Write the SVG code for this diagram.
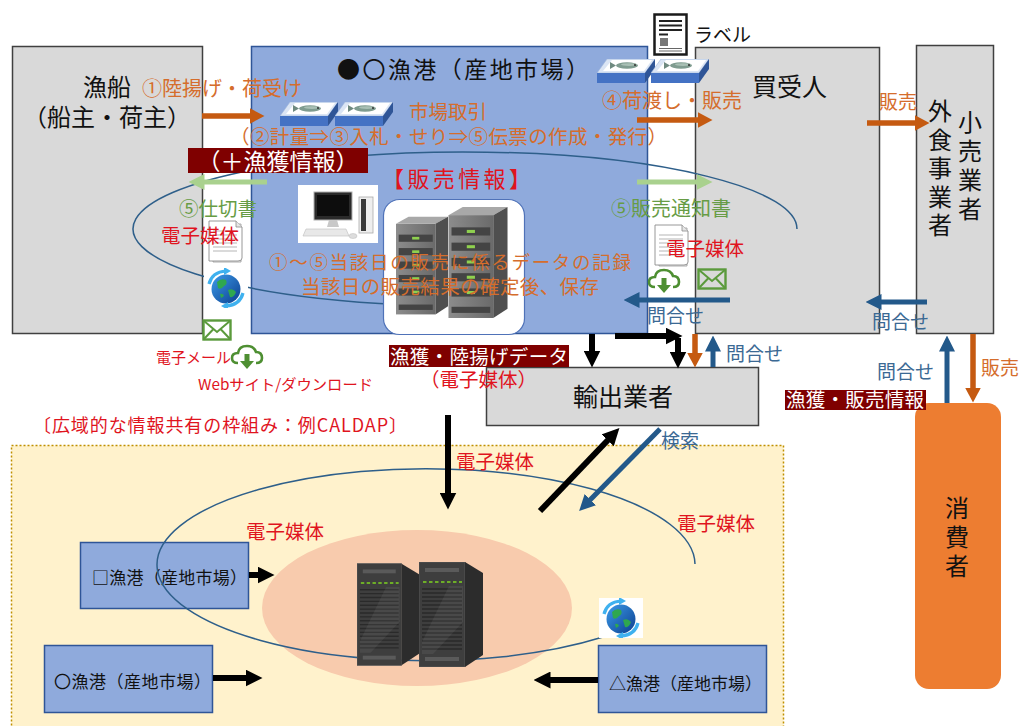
<svg xmlns="http://www.w3.org/2000/svg" width="1019" height="726" viewBox="0 0 1019 726">
<style>
text{font-family:'Noto Sans CJK JP','Noto Sans CJK SC','Noto Sans',sans-serif;}
.gbox{fill:#d9d9d9;stroke:#404040;stroke-width:1.5}
.bbox{fill:#8faadc;stroke:#2f5597;stroke-width:1.5}
.tb{fill:#111}
.to{fill:#d56d2c}
.tg{fill:#679c45}
.tr{fill:#e0141e}
.tq{fill:#3b6994}
.tw{fill:#fff}
.tag{fill:#7f0000}
.vt{writing-mode:vertical-rl}
.ring{fill:none;stroke:#2e5f8a;stroke-width:1.5}
.aor{fill:none;stroke:#c55a11;stroke-width:5.5}
.agr{fill:none;stroke:#a9d18e;stroke-width:5}
.abl{fill:none;stroke:#23598a;stroke-width:5}
.abk{fill:none;stroke:#000;stroke-width:6}
</style>
<defs>
  <marker id="hOr" viewBox="0 0 15 16" markerWidth="15" markerHeight="16" refX="0.5" refY="8" orient="auto" markerUnits="userSpaceOnUse"><path d="M0,0 L15,8 L0,16z" fill="#c55a11"/></marker>
  <marker id="hGr" viewBox="0 0 16 16" markerWidth="16" markerHeight="16" refX="0.5" refY="8" orient="auto" markerUnits="userSpaceOnUse"><path d="M0,0 L16,8 L0,16z" fill="#a9d18e"/></marker>
  <marker id="hBl" viewBox="0 0 16 16" markerWidth="16" markerHeight="16" refX="0.5" refY="8" orient="auto" markerUnits="userSpaceOnUse"><path d="M0,0 L16,8 L0,16z" fill="#23598a"/></marker>
  <marker id="hBk" viewBox="0 0 17 17" markerWidth="17" markerHeight="17" refX="0.5" refY="8.5" orient="auto" markerUnits="userSpaceOnUse"><path d="M0,0 L17,8.5 L0,17z" fill="#000"/></marker>
  <linearGradient id="gGlobe" x1="0" y1="0" x2="1" y2="1"><stop offset="0" stop-color="#3d9be9"/><stop offset="1" stop-color="#0b3f8f"/></linearGradient>
  <linearGradient id="gSrv" x1="0" y1="0" x2="1" y2="0"><stop offset="0" stop-color="#8c8c8c"/><stop offset="1" stop-color="#6a6a6a"/></linearGradient>

  <!-- fish tray -->
  <symbol id="tray" viewBox="0 0 58 25">
    <polygon points="10,0 58,0 48,14 0,14" fill="#dbe5f4" stroke="#9fb6dc" stroke-width="0.6"/>
    <polygon points="15,1 55,1 47,12 6,12" fill="#fff"/>
    <ellipse cx="30" cy="6.5" rx="11" ry="3.2" fill="#7f9c90"/>
    <ellipse cx="32" cy="5.6" rx="8" ry="1.4" fill="#a9c0b5"/>
    <polygon points="19,6.5 13,3 13,10" fill="#6f8a80"/>
    <circle cx="38" cy="6" r="0.9" fill="#222"/>
    <rect x="0" y="14" width="48" height="10" fill="#4472c4"/>
    <polygon points="48,14 58,0 58,10 48,24" fill="#2f5597"/>
  </symbol>

  <!-- paper document -->
  <symbol id="doc" viewBox="0 0 40 45">
    <path d="M6,4 H34 V42 H6z" fill="#f2f2f2" stroke="#9a9a9a" stroke-width="0.8"/>
    <path d="M2,1 H29 L35,7 V38 Q35,41 31,41 H2z" fill="#fff" stroke="#8c8c8c" stroke-width="0.9"/>
    <path d="M29,1 V7 H35" fill="#e6e6e6" stroke="#8c8c8c" stroke-width="0.8"/>
    <g stroke="#b5b5b5" stroke-width="1">
      <line x1="6" y1="11" x2="30" y2="11"/><line x1="6" y1="15" x2="30" y2="15"/>
      <line x1="6" y1="19" x2="30" y2="19"/><line x1="6" y1="23" x2="30" y2="23"/>
      <line x1="6" y1="27" x2="30" y2="27"/><line x1="6" y1="31" x2="30" y2="31"/>
    </g>
  </symbol>

  <!-- globe with refresh arrows -->
  <symbol id="globe" viewBox="0 0 44 40">
    <rect width="44" height="40" fill="#fff"/>
    <circle cx="22" cy="21" r="14.5" fill="url(#gGlobe)"/>
    <path d="M13,14 Q17,10 22,12 Q24,16 20,18 Q17,22 14,20z" fill="#2fa84f"/>
    <path d="M24,22 Q29,20 32,24 Q30,30 26,29z" fill="#2fa84f"/>
    <path d="M16,26 Q19,25 20,28 L17,30z" fill="#2fa84f"/>
    <path d="M5,16 Q8,4 22,3" fill="none" stroke="#3fb1ef" stroke-width="3.2"/>
    <polygon points="20,-1 27,3 20,7" fill="#3fb1ef"/>
    <path d="M39,25 Q36,37 22,38" fill="none" stroke="#3fb1ef" stroke-width="3.2"/>
    <polygon points="24,34 17,38 24,42" fill="#3fb1ef"/>
  </symbol>

  <!-- cloud download -->
  <symbol id="cloud" viewBox="0 0 34 26">
    <path d="M8,19 Q2,19 2,14 Q2,9 8,9 Q9,2 17,2 Q24,2 26,8 Q32,8 32,14 Q32,19 26,19" fill="none" stroke="#4e8f32" stroke-width="2.6"/>
    <rect x="14.5" y="10" width="5" height="8" fill="#4e8f32"/>
    <polygon points="10,17 24,17 17,25" fill="#4e8f32"/>
  </symbol>

  <!-- envelope -->
  <symbol id="mail" viewBox="0 0 30 22">
    <rect x="1.5" y="1.5" width="27" height="19" fill="none" stroke="#5b9a3c" stroke-width="2.4"/>
    <path d="M1.5,1.5 L15,13 L28.5,1.5 M1.5,20.5 L11,10.5 M28.5,20.5 L19,10.5" fill="none" stroke="#5b9a3c" stroke-width="2"/>
  </symbol>

  <!-- light server tower -->
  <symbol id="srvL" viewBox="0 0 58 110">
    <polygon points="0,8 14,0 58,0 44,8" fill="#a8a8a8"/>
    <rect x="0" y="8" width="44" height="101" fill="url(#gSrv)"/>
    <polygon points="44,8 58,0 58,100 44,109" fill="#4f4f4f"/>
    <g fill="#444">
      <rect x="3" y="20" width="38" height="8"/><rect x="3" y="35" width="38" height="8"/>
      <rect x="3" y="50" width="38" height="8"/><rect x="3" y="65" width="38" height="8"/>
      <rect x="3" y="80" width="38" height="8"/><rect x="3" y="98" width="38" height="6"/>
    </g>
    <g fill="#8fd14f">
      <rect x="18" y="22.5" width="8" height="3"/><rect x="18" y="37.5" width="8" height="3"/>
      <rect x="18" y="52.5" width="8" height="3"/><rect x="18" y="67.5" width="8" height="3"/>
      <rect x="18" y="82.5" width="8" height="3"/>
    </g>
  </symbol>

  <!-- dark server tower -->
  <symbol id="srvD" viewBox="0 0 64 105">
    <rect x="0" y="0" width="46" height="105" fill="#3e3e3e" stroke="#5a5a5a" stroke-width="0.8"/>
    <polygon points="46,0 64,11 64,93 46,105" fill="#2c2c2c"/>
    <rect x="6" y="6" width="34" height="4" fill="#5a5a5a"/>
    <line x1="4" y1="20" x2="43" y2="20" stroke="#7ed321" stroke-width="1.6" stroke-dasharray="3.5 2.5"/>
    <g stroke="#2a2a2a" stroke-width="1.4">
      <line x1="3" y1="27" x2="43" y2="27"/><line x1="3" y1="31" x2="43" y2="31"/><line x1="3" y1="35" x2="43" y2="35"/>
      <line x1="3" y1="39" x2="43" y2="39"/><line x1="3" y1="43" x2="43" y2="43"/><line x1="3" y1="47" x2="43" y2="47"/>
      <line x1="3" y1="51" x2="43" y2="51"/><line x1="3" y1="55" x2="43" y2="55"/><line x1="3" y1="59" x2="43" y2="59"/>
      <line x1="3" y1="63" x2="43" y2="63"/><line x1="3" y1="67" x2="43" y2="67"/><line x1="3" y1="71" x2="43" y2="71"/>
      <line x1="3" y1="75" x2="43" y2="75"/><line x1="3" y1="79" x2="43" y2="79"/><line x1="3" y1="83" x2="43" y2="83"/>
      <line x1="3" y1="87" x2="43" y2="87"/>
    </g>
    <polygon points="30,24 44,24 44,60 14,92 3,92 3,80" fill="#fff" opacity="0.06"/>
    <rect x="6" y="95" width="34" height="4" fill="#5a5a5a"/>
  </symbol>
</defs>

<rect width="1019" height="726" fill="#fff"/>

<!-- wide-area sharing region -->
<g id="n-region">
  <rect x="11.5" y="445.5" width="772" height="290" fill="#fff2cc" stroke="#bf9000" stroke-width="1.5" stroke-dasharray="2 2"/>
  <ellipse cx="417" cy="608" rx="155" ry="78" fill="#f8cbad"/>
</g>

<!-- main nodes -->
<g id="n-gyosen">
  <rect class="gbox" x="12.5" y="46.5" width="190" height="287"/>
  <text class="tb" x="107" y="96" font-size="24" text-anchor="middle">漁船</text>
  <text class="tb" x="107" y="126" font-size="24" text-anchor="middle">（船主・荷主）</text>
</g>

<g id="n-port">
  <rect class="bbox" x="251.5" y="46.5" width="396" height="287"/>
  <text class="tb" x="337" y="78" font-size="23" textLength="252" lengthAdjust="spacing">●〇漁港（産地市場）</text>
</g>

<g id="n-kaiuke">
  <rect class="gbox" x="695.5" y="47.5" width="184" height="286"/>
  <text class="tb" x="752" y="96" font-size="25">買受人</text>
</g>

<g id="n-kouri">
  <rect class="gbox" x="916.5" y="45.5" width="77" height="288"/>
  <text class="tb vt" x="940" y="99" font-size="24" letter-spacing="4.5">外食事業者</text>
  <text class="tb vt" x="970" y="110" font-size="24" letter-spacing="5">小売業者</text>
</g>

<g id="n-yushutsu">
  <rect class="gbox" x="486.5" y="367.5" width="272" height="58"/>
  <text class="tb" x="623" y="406" font-size="25" text-anchor="middle">輸出業者</text>
</g>

<g id="n-shohi">
  <rect x="915" y="403" width="86" height="286" rx="14" fill="#ed7d31"/>
  <text class="tb vt" x="957" y="496" font-size="24" letter-spacing="5">消費者</text>
</g>

<g id="n-port-sq">
  <rect class="bbox" x="80.5" y="542.5" width="168" height="66"/>
  <text class="tb" x="92" y="584" font-size="17" textLength="155" lengthAdjust="spacing">□漁港（産地市場）</text>
</g>
<g id="n-port-ci">
  <rect class="bbox" x="44.5" y="645.5" width="168" height="67"/>
  <text class="tb" x="54" y="688" font-size="17" textLength="157" lengthAdjust="spacing">〇漁港（産地市場）</text>
</g>
<g id="n-port-tr">
  <rect class="bbox" x="598.5" y="645.5" width="168" height="67"/>
  <text class="tb" x="609" y="690" font-size="17" textLength="153" lengthAdjust="spacing">△漁港（産地市場）</text>
</g>

<!-- information flow rings -->
<g id="rings">
  <path class="ring" d="M797,229 A332,77 0 1 0 400,304.5"/>
  <path class="ring" d="M695,564 A269,96 0 1 0 603,637"/>
</g>

<!-- shared data hub -->
<g id="n-hub">
  <use href="#srvD" x="357" y="562" width="62" height="105"/>
  <use href="#srvD" x="419" y="562" width="64" height="105"/>
</g>

<!-- sales system inside the market -->
<g id="n-system">
  <rect x="383.5" y="199.5" width="141" height="135" rx="16" fill="#fff" stroke="#4f72b8" stroke-width="1.2"/>
  <use href="#srvL" x="396" y="212" width="52" height="108"/>
  <use href="#srvL" x="447" y="207" width="62" height="112"/>
  <g id="pc">
    <rect x="298" y="185" width="80" height="58" fill="#fff"/>
    <rect x="314" y="192" width="38" height="28" fill="#2a2a2a" stroke="#b0b0b0" stroke-width="1"/>
    <rect x="317" y="195" width="32" height="21" fill="#0d0d0d"/>
    <polygon points="329,220 337,220 339,227 327,227" fill="#c8c8c8"/>
    <polygon points="306,229 346,229 349,236 303,236" fill="#e8e8e8" stroke="#bdbdbd" stroke-width="0.6"/>
    <rect x="359" y="197" width="14" height="36" fill="#eee" stroke="#aaa" stroke-width="0.8"/>
    <rect x="361" y="199" width="5" height="32" fill="#3a3a3a"/>
    <ellipse cx="353" cy="236" rx="4" ry="2.5" fill="#ddd" stroke="#bbb" stroke-width="0.5"/>
  </g>
</g>

<!-- goods and media icons -->
<g id="icons">
  <use href="#tray" x="280" y="102" width="58" height="25"/>
  <use href="#tray" x="335" y="102" width="58" height="25"/>
  <use href="#tray" x="597" y="59" width="58" height="25"/>
  <use href="#tray" x="651" y="59" width="58" height="25"/>
  <g id="label-icon">
    <rect x="654.5" y="14.5" width="32" height="40" fill="#fff" stroke="#1a1a1a" stroke-width="2.5"/>
    <g stroke="#222" stroke-width="2"><line x1="659" y1="21" x2="682" y2="21"/><line x1="659" y1="25.5" x2="682" y2="25.5"/><line x1="659" y1="30" x2="682" y2="30"/><line x1="659" y1="34.5" x2="668" y2="34.5"/></g>
    <rect x="660" y="38" width="8" height="8" fill="#777"/>
    <g stroke="#666" stroke-width="1"><line x1="659" y1="48.5" x2="682" y2="48.5"/><line x1="659" y1="51" x2="682" y2="51"/></g>
  </g>
  <use href="#doc" x="207" y="220" width="40" height="45"/>
  <use href="#globe" x="204" y="268" width="44" height="40"/>
  <use href="#mail" x="202" y="319" width="30" height="22"/>
  <use href="#cloud" x="230" y="344" width="34" height="26"/>
  <use href="#doc" x="653" y="224" width="40" height="45"/>
  <use href="#cloud" x="647" y="268" width="34" height="26"/>
  <use href="#mail" x="697" y="268" width="30" height="22"/>
  <use href="#globe" x="599" y="598" width="44" height="40"/>
</g>

<!-- connectors -->
<g id="connectors">
  <path class="aor" d="M202,116 H250" marker-end="url(#hOr)"/>
  <path class="aor" d="M637,120 H698" marker-end="url(#hOr)"/>
  <path class="aor" d="M867,123 H915" marker-end="url(#hOr)"/>
  <path class="aor" d="M695,334 V353" marker-end="url(#hOr)" stroke-width="5"/>
  <path class="aor" d="M973,334 V388" marker-end="url(#hOr)" stroke-width="5"/>
  <path class="agr" d="M267,182 H204" marker-end="url(#hGr)"/>
  <path class="agr" d="M637,182 H697" marker-end="url(#hGr)"/>
  <path class="abl" d="M730,300 H639" marker-end="url(#hBl)"/>
  <path class="abl" d="M927,302 H881" marker-end="url(#hBl)"/>
  <path class="abl" d="M713,367 V351" marker-end="url(#hBl)"/>
  <path class="abl" d="M947,403 V351" marker-end="url(#hBl)"/>
  <path class="abl" d="M660,429 L590,500" marker-end="url(#hBl)" stroke-width="5.5"/>
  <path class="abk" d="M592,334 V351" marker-end="url(#hBk)"/>
  <path class="abk" d="M615,336 H666" marker-end="url(#hBk)"/>
  <path class="abk" d="M678,338 V352" marker-end="url(#hBk)"/>
  <path class="abk" d="M448,415 V493" marker-end="url(#hBk)"/>
  <path class="abk" d="M540,511 L608,440" marker-end="url(#hBk)" stroke-width="6.5"/>
  <path class="abk" d="M249,575 H258" marker-end="url(#hBk)"/>
  <path class="abk" d="M213,678 H246" marker-end="url(#hBk)"/>
  <path class="abk" d="M598,680 H550" marker-end="url(#hBk)"/>
</g>

<!-- labels -->
<g id="labels">
  <text class="to" x="142" y="96" font-size="20">①陸揚げ・荷受け</text>
  <text class="to" x="409" y="119" font-size="19.5">市場取引</text>
  <text class="to" x="230" y="144" font-size="19.5" textLength="437" lengthAdjust="spacing">（②計量⇒③入札・せり⇒⑤伝票の作成・発行）</text>
  <rect class="tag" x="188" y="148" width="180" height="25"/>
  <text class="tw" x="278" y="170" font-size="23" text-anchor="middle">（＋漁獲情報）</text>
  <text class="tr" x="382" y="187" font-size="22" textLength="149" lengthAdjust="spacing" fill="#e0301e">【販売情報】</text>
  <text class="tg" x="179" y="216" font-size="19.5">⑤仕切書</text>
  <text class="tg" x="611" y="216" font-size="20">⑤販売通知書</text>
  <text class="tr" x="161" y="243" font-size="19.5">電子媒体</text>
  <text class="tr" x="666" y="256" font-size="19.5">電子媒体</text>
  <text class="to" x="269" y="269" font-size="18.5" textLength="362" lengthAdjust="spacing">①～⑤当該日の販売に係るデータの記録</text>
  <text class="to" x="301" y="294" font-size="19.5" textLength="298" lengthAdjust="spacing">当該日の販売結果の確定後、保存</text>
  <text class="tb" x="694" y="42" font-size="19">ラベル</text>
  <text class="to" x="602" y="108" font-size="20">④荷渡し・販売</text>
  <text class="to" x="879" y="109" font-size="19">販売</text>
  <text class="tq" x="647" y="323" font-size="19">問合せ</text>
  <text class="tq" x="872" y="329" font-size="19">問合せ</text>
  <text class="tq" x="726" y="361" font-size="19">問合せ</text>
  <text class="tq" x="877" y="379" font-size="19">問合せ</text>
  <text class="to" x="981" y="375" font-size="19">販売</text>
  <rect class="tag" x="785" y="390" width="141" height="20"/>
  <text class="tw" x="786" y="407" font-size="19.5" textLength="138" lengthAdjust="spacing">漁獲・販売情報</text>
  <rect class="tag" x="389" y="345" width="180" height="22"/>
  <text class="tw" x="390" y="364" font-size="19.5" textLength="178" lengthAdjust="spacing">漁獲・陸揚げデータ</text>
  <text class="tr" x="420" y="387" font-size="19.5">（電子媒体）</text>
  <text class="tr" x="156" y="363" font-size="15">電子メール</text>
  <text class="tr" x="198" y="390" font-size="15" textLength="175" lengthAdjust="spacingAndGlyphs">Webサイト/ダウンロード</text>
  <text class="tr" x="33" y="432" font-size="18" textLength="374" lengthAdjust="spacing">〔広域的な情報共有の枠組み：例CALDAP〕</text>
  <text class="tq" x="661" y="448" font-size="19">検索</text>
  <text class="tr" x="456" y="469" font-size="19.5">電子媒体</text>
  <text class="tr" x="677" y="531" font-size="19.5">電子媒体</text>
  <text class="tr" x="246" y="539" font-size="19.5">電子媒体</text>
</g>
</svg>
